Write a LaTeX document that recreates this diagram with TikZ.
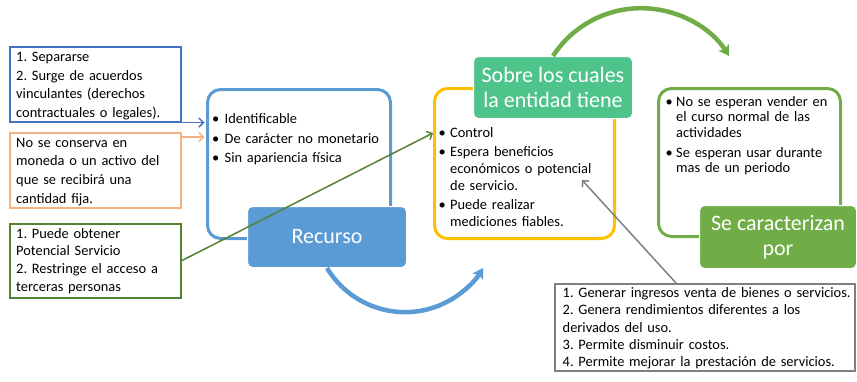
\documentclass[tikz,border=0pt]{standalone}
\usepackage{fontspec}
\setmainfont{Carlito}
\usetikzlibrary{arrows.meta,calc}
\definecolor{cBlueDk}{HTML}{4472C4}
\definecolor{cOrange}{HTML}{F4B183}
\definecolor{cGreenDk}{HTML}{548235}
\definecolor{cBlue}{HTML}{5B9BD5}
\definecolor{cYellow}{HTML}{FFC000}
\definecolor{cTeal}{HTML}{4EC48B}
\definecolor{cGreen}{HTML}{70AD47}
\definecolor{cGray}{HTML}{808080}
\newlength\bulind
\newcommand\bul[1]{\hangindent=\bulind\hangafter=1\noindent\makebox[\bulind][l]{\textbullet}#1\par}
\frenchspacing
\begin{document}
\begin{tikzpicture}[x=1pt,y=-1pt,
  txt/.style={inner sep=0pt,anchor=base west,align=left,text width=#1,font=\fontsize{14.4}{18.7}\selectfont},
  txt/.default=330,
  sqbox/.style={draw=#1,line width=1.5pt,anchor=north west,inner sep=0pt},
  rbox/.style={draw=#1,line width=3pt,rounded corners=13pt,anchor=north west,inner sep=0pt},
  title/.style={fill=#1,draw=white,line width=1pt,rounded corners=5pt,anchor=north west,inner sep=0pt,
    text=white,align=center,font=\fontsize{22}{25}\selectfont},
  barb/.style={draw=#1,line width=1.5pt,-{Straight Barb[length=4.5pt,width=9pt]}},
  bigarc/.style={draw=#1,line width=4.5pt,-{Stealth[length=10pt,width=12pt,inset=2pt]}}
]
\useasboundingbox (0,0) rectangle (857,381);

% left square boxes
\node[sqbox=cBlueDk,minimum width=171,minimum height=75] (b1) at (9,46) {};
\node[txt] (t1) at (16,61.5) {1. Separarse\\2. Surge de acuerdos\\vinculantes (derechos\\contractuales o legales).};
\node[sqbox=cOrange,minimum width=171,minimum height=75] (b2) at (9,132) {};
\node[txt,font=\fontsize{14.4}{18.9}\selectfont] (t2) at (16,147) {No se conserva en\\moneda o un activo del\\que se recibirá una\\cantidad fija.};
\node[sqbox=cGreenDk,minimum width=171,minimum height=74] (b3) at (9,223) {};
\node[txt,font=\fontsize{14.4}{17.9}\selectfont] (t3) at (16,238) {1. Puede obtener\\Potencial Servicio\\2. Restringe el acceso a\\terceras personas};

% rounded boxes
\node[rbox=cBlue,minimum width=183,minimum height=149] (rb) at (206,88) {};
\node[txt,font=\fontsize{14.4}{17}\selectfont] (trb) at (212,123.5) {\setlength\bulind{12.5pt}\setlength\parskip{2.5pt}%
  \bul{Identificable}\bul{De carácter no monetario}\bul{Sin apariencia física}};

\node[rbox=cYellow,minimum width=180,minimum height=150] (yb) at (433,87) {};
\node[txt,font=\fontsize{14.4}{17}\selectfont] (tyb) at (438.5,137) {\setlength\bulind{11.5pt}\setlength\parskip{2pt}%
  \bul{Control}\bul{Espera beneficios\newline económicos o potencial\newline de servicio.}\bul{Puede realizar\newline mediciones fiables.}};

\node[rbox=cGreen,minimum width=182,minimum height=148] (gb) at (657,87) {};
\node[txt,font=\fontsize{14.4}{15.5}\selectfont] (tgb) at (665.5,106) {\setlength\bulind{10.5pt}\setlength\parskip{4.5pt}%
  \bul{No se esperan vender en\newline el curso normal de las\newline actividades}\bul{Se esperan usar durante\newline mas de un periodo}};

% bottom gray box
\node[sqbox=cGray,minimum width=300,minimum height=87] (bb) at (554,283) {};
\node[txt,font=\fontsize{14.4}{17.3}\selectfont] (tbb) at (562.5,297.5) {1. Generar ingresos venta de bienes o servicios.\\2. Genera rendimientos diferentes a los\\derivados del uso.\\3. Permite disminuir costos.\\4. Permite mejorar la prestación de servicios.};

% title boxes
\node[title=cBlue,minimum width=159,minimum height=61] (rec) at (247,206) {Recurso};
\node[title=cTeal,minimum width=159,minimum height=62] (sobre) at (473,56) {Sobre los cuales\\la entidad tiene};
\node[title=cGreen,minimum width=157,minimum height=63] (sec) at (699,205) {Se caracterizan\\por};

% curved arrows
\draw[bigarc=cBlue] (rec.south) arc[start angle=149,end angle=31,radius=91];
\draw[bigarc=cGreen] (sobre.north) arc[start angle=-147,end angle=-33,radius=105];

% connectors
\draw[barb=cBlueDk] (b1.south east) -- ($(rb.west |- b1.south east)+(-1.5,0)$);
\coordinate (o1) at ($(b2.north east)+(0,5)$);
\draw[barb=cOrange] (o1) -- ($(rb.west |- o1)+(-1.5,0)$);
\coordinate (gEnd) at ($(yb.north west)+(0,46)$);
\draw[barb=cGreenDk] (b3.east) -- (gEnd);
\coordinate (grStart) at ($(bb.north west)+(122,0)$);
\coordinate (grEnd) at ($(yb.north west)+(149,93)$);
\draw[barb=cGray] (grStart) -- (grEnd);
\end{tikzpicture}
\end{document}
